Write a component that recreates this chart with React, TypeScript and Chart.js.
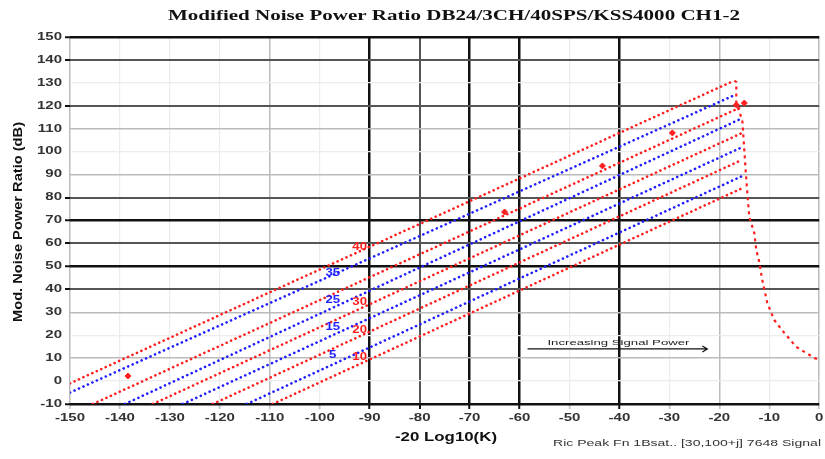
import React, { useEffect, useRef } from "react";
import { Chart, registerables } from "chart.js";
Chart.register(...registerables);

const TITLE = "Modified Noise Power Ratio DB24/3CH/40SPS/KSS4000 CH1-2";
const X_TITLE = "-20 Log10(K)";
const Y_TITLE = "Mod. Noise Power Ratio (dB)";
const FOOTNOTE = "Ric Peak Fn 1Bsat.. [30,100+j] 7648 Signal";
const ARROW_LABEL = "Increasing Signal Power";

const xTicks = [-150, -140, -130, -120, -110, -100, -90, -80, -70, -60, -50, -40, -30, -20, -10, 0];
const yTicks = [-10, 0, 10, 20, 30, 40, 50, 60, 70, 80, 90, 100, 110, 120, 130, 140, 150];

// diagonal lines (start / end)
const lineStartX = [-150, -150, -145.4, -139, -133.4, -127.4, -121.4, -114.6, -109.4];
const lineStartY = [-1, -5, -10, -10, -10, -10, -10, -10, -10];
const lineEndX = [-17, -16.6, -15.6, -16, -15.6, -15.4, -15.4, -14.8, -15];
const lineEndY = [131, 125, 119.5, 114, 108, 102, 96.5, 90, 84.5];
const lineSeries = ["red", "blue", "red", "blue", "red", "blue", "red", "blue", "red"];

// fall-off curve near full scale
const curveX = [-17, -16.6, -16.6, -15.4, -15, -14.6, -14, -13, -12.6, -12, -11.4, -10.4, -9, -7, -4.6, -1, 0];
const curveY = [131, 130.4, 121, 113.8, 100.7, 87.7, 71.5, 64.6, 57.1, 51.9, 44.1, 34, 26.6, 21, 14.9, 10.1, 9.2];

// red markers
const markerX = [-138.4, -63, -43.4, -29.4, -16.6, -15];
const markerY = [2.2, 73.7, 93.8, 108.2, 120.4, 121.2];

// in-plot labels
const redLabels = ["40", "30", "20", "10"];
const redLabelY = [58.5, 34.5, 22.3, 10.5];
const redLabelX = -92;
const blueLabels = ["35", "25", "15", "5"];
const blueLabelY = [47.1, 35.4, 23.6, 11.4];
const blueLabelX = -97.4;

// arrow annotation
const arrowX = [-58.4, -22.4];
const arrowY = 14;
const arrowLabelPos = [-40.2, 16.6];

// grid styles
const yBlack = [150, 70, 50, -10];
const yDark = [140, 120, 80, 60, 40];
const yMid = [110, 90, 30, 10];
const xBlack = [-90, -70, -60, -40];
const xDark = [-80];
const xMid = [-110, -20, 0, -150];

const COLORS: Record<string, string> = { red: "rgb(255,30,30)", blue: "rgb(30,30,255)" };

function gridStyle(v: number, black: number[], dark: number[], mid: number[]) {
  if (black.includes(v)) return { c: "#111", w: 2.5, tick: true };
  if (dark.includes(v)) return { c: "#555", w: 2, tick: true };
  if (mid.includes(v)) return { c: "#bbb", w: 1.5, tick: false };
  return { c: "#ececec", w: 1.2, tick: false };
}

function drawText(ctx: CanvasRenderingContext2D, text: string, x: number, y: number, font: string, color: string, opts: { sx?: number; width?: number; align?: string }) {
  ctx.save();
  ctx.font = font;
  ctx.fillStyle = color;
  ctx.textBaseline = "middle";
  ctx.textAlign = "left";
  const m = ctx.measureText(text).width;
  const sx = opts.width ? opts.width / m : opts.sx || 1;
  const w = m * sx;
  const left = opts.align === "right" ? x - w : opts.align === "left" ? x : x - w / 2;
  ctx.translate(left, y);
  ctx.scale(sx, 1);
  ctx.fillText(text, 0, 0);
  ctx.restore();
}

const textPlugin = {
  id: "texts",
  afterDraw(chart: any) {
    const ctx: CanvasRenderingContext2D = chart.ctx;
    const xs = chart.scales.x;
    const ys = chart.scales.y;
    const sans = '"Liberation Sans", Arial, sans-serif';
    drawText(ctx, TITLE, 454, 16, 'bold 15px "Liberation Serif", serif', "#111", { width: 572 });
    yTicks.forEach((v) => {
      drawText(ctx, String(v), 62, ys.getPixelForValue(v), "bold 10px " + sans, "#333", { sx: 1.5, align: "right" });
    });
    xTicks.forEach((v) => {
      drawText(ctx, String(v), xs.getPixelForValue(v), 418, "bold 10px " + sans, "#333", { sx: 1.5 });
    });
    drawText(ctx, X_TITLE, 446, 437, "bold 13px " + sans, "#111", { width: 102 });
    ctx.save();
    ctx.translate(19, 222);
    ctx.rotate(-Math.PI / 2);
    drawText(ctx, Y_TITLE, 0, 0, "bold 12px " + sans, "#111", { width: 200 });
    ctx.restore();
    drawText(ctx, FOOTNOTE, 553, 444, "9px " + sans, "#333", { width: 268, align: "left" });
    redLabels.forEach((t, i) => {
      drawText(ctx, t, xs.getPixelForValue(redLabelX), ys.getPixelForValue(redLabelY[i]), "bold 11px " + sans, COLORS.red, { sx: 1.2 });
    });
    blueLabels.forEach((t, i) => {
      drawText(ctx, t, xs.getPixelForValue(blueLabelX), ys.getPixelForValue(blueLabelY[i]), "bold 11px " + sans, COLORS.blue, { sx: 1.2 });
    });
    const ax0 = xs.getPixelForValue(arrowX[0]);
    const ax1 = xs.getPixelForValue(arrowX[1]);
    const ay = ys.getPixelForValue(arrowY);
    ctx.save();
    ctx.strokeStyle = "#111";
    ctx.lineWidth = 1.2;
    ctx.beginPath();
    ctx.moveTo(ax0, ay);
    ctx.lineTo(ax1, ay);
    ctx.moveTo(ax1 - 5, ay - 3);
    ctx.lineTo(ax1, ay);
    ctx.lineTo(ax1 - 5, ay + 3);
    ctx.stroke();
    ctx.restore();
    drawText(ctx, ARROW_LABEL, xs.getPixelForValue(arrowLabelPos[0]), ys.getPixelForValue(arrowLabelPos[1]), "8px " + sans, "#222", { width: 142 });
  },
};

export default function App() {
  const ref = useRef<HTMLCanvasElement>(null);
  useEffect(() => {
    const datasets: any[] = lineSeries.map((s, i) => ({
      label: "line" + i,
      data: [
        { x: lineStartX[i], y: lineStartY[i] },
        { x: lineEndX[i], y: lineEndY[i] },
      ],
      showLine: true,
      borderColor: COLORS[s],
      borderWidth: 2.6,
      borderDash: [0.1, 4.8],
      borderCapStyle: "round",
      pointRadius: 0,
      fill: false,
    }));
    datasets.push({
      label: "curve",
      data: curveX.map((x, i) => ({ x, y: curveY[i] })),
      showLine: true,
      borderColor: COLORS.red,
      borderWidth: 2.2,
      borderDash: [3, 4],
      pointRadius: 0,
      tension: 0,
      fill: false,
    });
    datasets.push({
      label: "markers",
      data: markerX.map((x, i) => ({ x, y: markerY[i] })),
      showLine: false,
      pointStyle: "rectRot",
      pointRadius: 3,
      backgroundColor: COLORS.red,
      borderColor: COLORS.red,
    });
    const chart = new Chart(ref.current!, {
      type: "scatter",
      data: { datasets },
      options: {
        animation: false,
        responsive: false,
        devicePixelRatio: 1,
        layout: { padding: { left: 0, right: 5, top: 37, bottom: 0 } },
        plugins: { legend: { display: false }, tooltip: { enabled: false } },
        scales: {
          x: {
            type: "linear",
            min: -150,
            max: 0,
            afterFit: (s: any) => {
              s.height = 55;
            },
            afterBuildTicks: (s: any) => {
              s.ticks = xTicks.map((v) => ({ value: v }));
            },
            ticks: { color: "rgba(0,0,0,0)", font: { size: 10 } },
            border: { display: false },
            grid: {
              color: (c: any) => gridStyle(c.tick.value, xBlack, xDark, xMid).c,
              lineWidth: (c: any) => gridStyle(c.tick.value, xBlack, xDark, xMid).w,
              tickColor: (c: any) => (gridStyle(c.tick.value, xBlack, xDark, xMid).tick ? "#111" : "#ccc"),
              tickLength: 5,
              tickWidth: 2,
            },
          },
          y: {
            type: "linear",
            min: -10,
            max: 150,
            afterFit: (s: any) => {
              s.width = 70;
            },
            afterBuildTicks: (s: any) => {
              s.ticks = yTicks.map((v) => ({ value: v }));
            },
            ticks: { color: "rgba(0,0,0,0)", font: { size: 10 } },
            border: { display: false },
            grid: {
              color: (c: any) => gridStyle(c.tick.value, yBlack, yDark, yMid).c,
              lineWidth: (c: any) => gridStyle(c.tick.value, yBlack, yDark, yMid).w,
              tickColor: (c: any) => (gridStyle(c.tick.value, yBlack, yDark, yMid).tick ? "#111" : "rgba(0,0,0,0)"),
              tickLength: 5,
              tickWidth: 2,
            },
          },
        },
      },
      plugins: [textPlugin],
    });
    return () => chart.destroy();
  }, []);
  return (
    <div style={{ position: "absolute", left: 0, top: 0, width: 825, height: 459, background: "#fff" }}>
      <canvas ref={ref} width={825} height={459} style={{ display: "block" }} />
    </div>
  );
}
